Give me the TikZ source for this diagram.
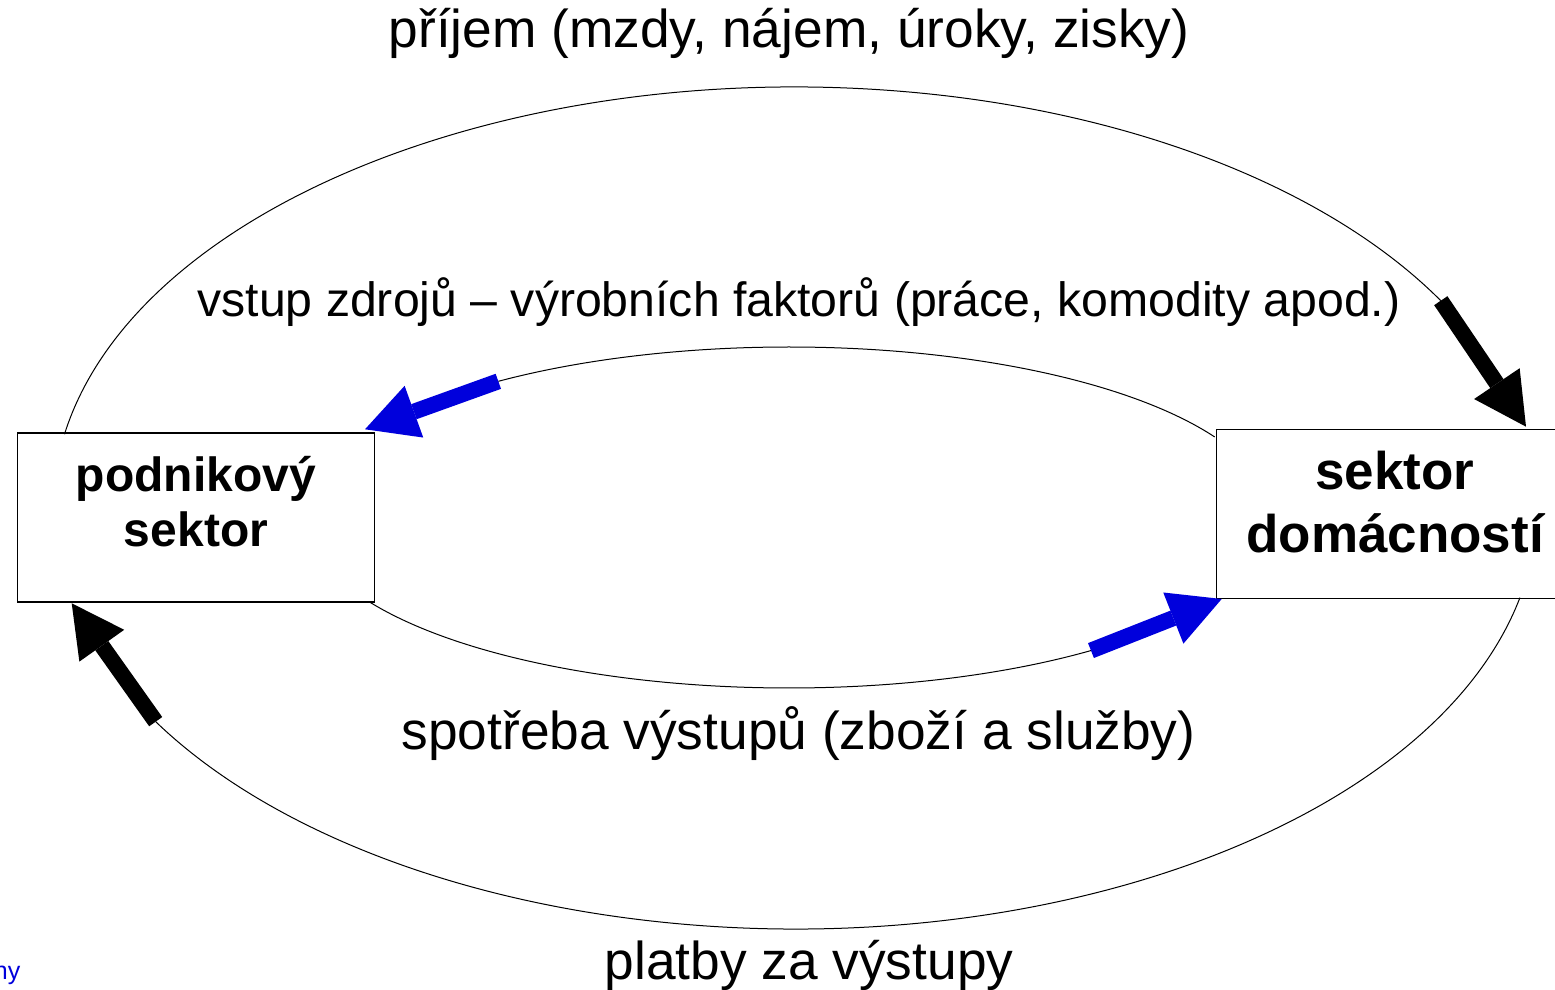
\documentclass[tikz,border=0pt]{standalone}
\usepackage{fontspec}
\setmainfont{Liberation Sans}
\usetikzlibrary{arrows.meta}
\definecolor{flowblue}{RGB}{0,0,220}

\begin{document}
\begin{tikzpicture}
  [x=1pt,y=1pt,every node/.style={inner sep=0pt},
   flowtext/.style={font=\fontsize{53.3}{60}\selectfont,anchor=base},
   sectorbox/.style={draw,line width=1.4pt,minimum width=357pt,minimum height=169pt},
   blockarrow/.style={line width=16pt,-{Triangle[length=52pt,width=55pt,line width=0pt]}},
   flow/.style={line width=1pt}]
  \useasboundingbox (0,0) rectangle (1555,990);

  \node[sectorbox] (pod) at (196,472.5) {};
  \node[sectorbox] (dom) at (1395,476) {};
  \node[align=center,font=\fontsize{48}{55}\selectfont\bfseries] (podtext) at ([yshift=15.75]pod.center) {podnikový\\sektor};
  \node[align=center,font=\fontsize{53}{63}\selectfont\bfseries] (domtext) at ([yshift=11.5]dom.center) {sektor\\domácností};

  \node[flowtext] (prijem) at (789,942) {příjem (mzdy, nájem, úroky, zisky)};
  \node[flowtext,font=\fontsize{48.2}{56}\selectfont] (vstup) at (799,673) {vstup zdrojů – výrobních faktorů (práce, komodity apod.)};
  \node[flowtext] (spotreba) at (798.5,240) {spotřeba výstupů (zboží a služby)};
  \node[flowtext] (platby) at (809,10) {platby za výstupy};
  \node[anchor=base east,font=\fontsize{25}{28}\selectfont,text=flowblue] (ny) at (20.5,10) {ny};

  \coordinate (oc) at (795,482);
  \coordinate (ic) at (789,472.5);
  \coordinate (t1) at (1526,563.3);
  \coordinate (t2) at (71.7,386.7);
  \coordinate (t3) at (365,560.7);
  \coordinate (t4) at (1221.7,391);

  \draw[flow] (oc) ++(169.9:742 and 421) arc[start angle=169.9,end angle=29.5,x radius=742,y radius=421] coordinate (o1);
  \draw[flow] (oc) ++(347.7:742 and 421) arc[start angle=347.7,end angle=210.5,x radius=742,y radius=421] coordinate (o2);
  \draw[flow] (ic) ++(28.2:483 and 170.5) arc[start angle=28.2,end angle=127,x radius=483,y radius=170.5] coordinate (i1);
  \draw[flow] (ic) ++(209.8:483 and 170.5) arc[start angle=209.8,end angle=308.7,x radius=483,y radius=170.5] coordinate (i2);

  \foreach \from/\to/\col in {o1/t1/black,o2/t2/black,i1/t3/flowblue,i2/t4/flowblue}
    \draw[blockarrow,\col] (\from) -- (\to);

\end{tikzpicture}
\end{document}
